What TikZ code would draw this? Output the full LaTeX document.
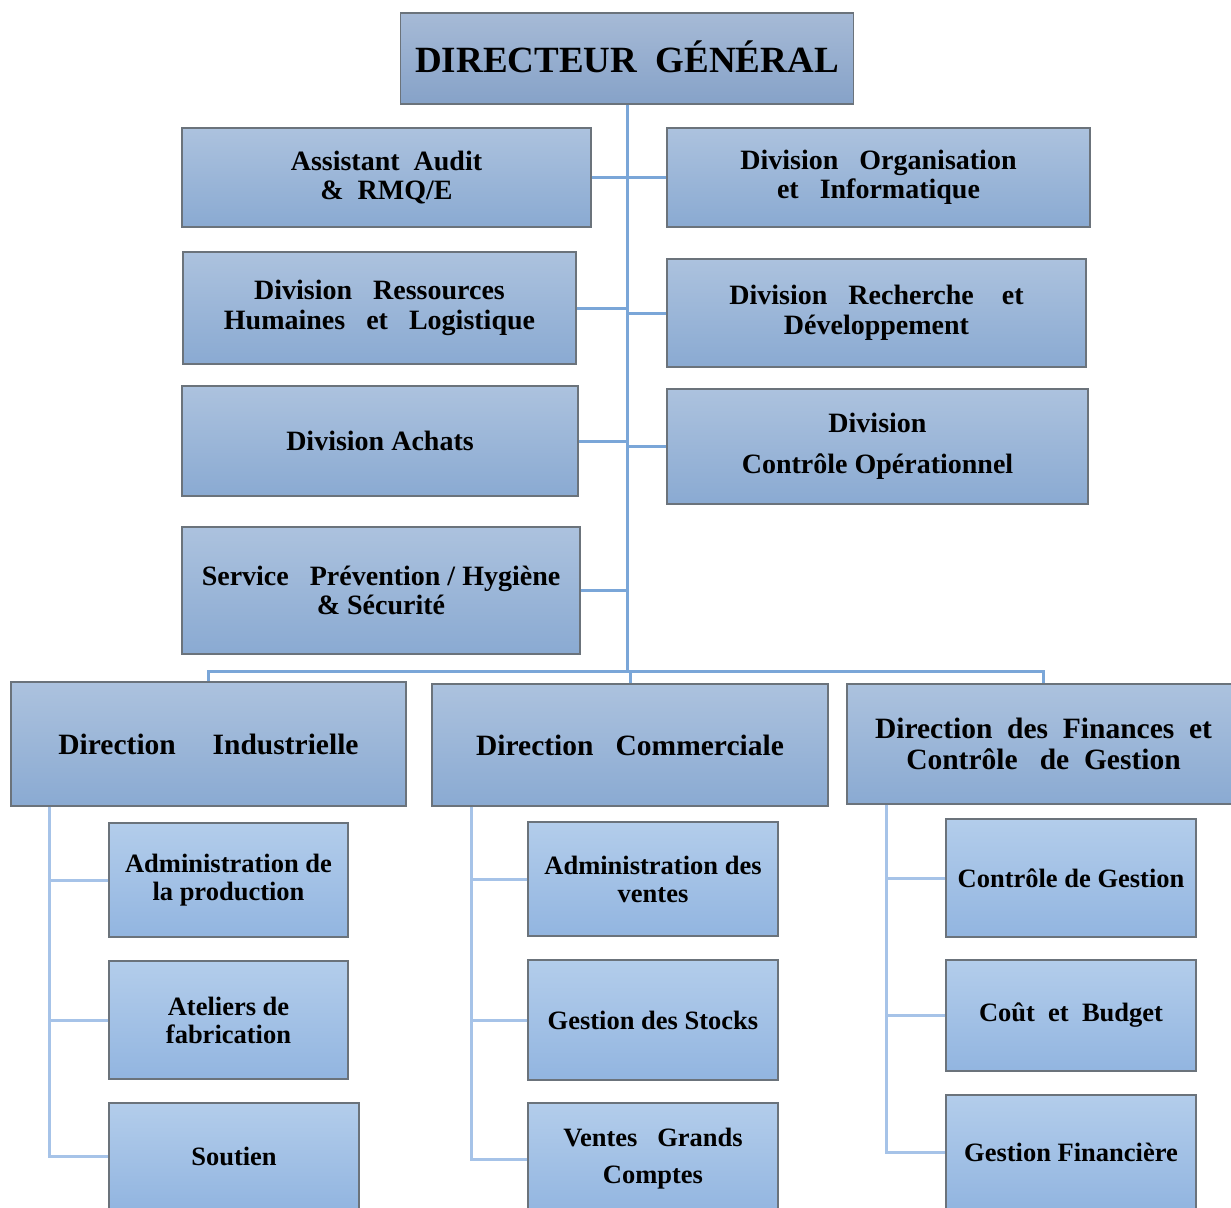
\documentclass[tikz,border=0pt]{standalone}
\usepackage{fontspec}
\setmainfont{Liberation Serif}

\definecolor{boxtop}{HTML}{ACC2DE}
\definecolor{boxbot}{HTML}{8AAAD2}
\definecolor{headtop}{HTML}{A6BAD6}
\definecolor{headbot}{HTML}{86A2C8}
\definecolor{subtop}{HTML}{B3CDEB}
\definecolor{subbot}{HTML}{92B5E0}
\definecolor{linkblue}{HTML}{7AA6D8}
\definecolor{sublinkblue}{HTML}{A6C3E8}
\definecolor{boxline}{HTML}{6B737B}

\tikzset{
  unit/.style={draw=boxline, line width=1.3pt, top color=boxtop, bottom color=boxbot,
    align=center, inner sep=0pt, font=\fontsize{28}{29.5}\selectfont\bfseries},
  head/.style={unit, top color=headtop, bottom color=headbot,
    font=\fontsize{37}{40}\selectfont\bfseries},
  direction/.style={unit, font=\fontsize{29.5}{31}\selectfont\bfseries},
  subunit/.style={unit, top color=subtop, bottom color=subbot,
    font=\fontsize{26.5}{28}\selectfont\bfseries},
  link/.style={draw=linkblue, line width=3pt},
  sublink/.style={draw=sublinkblue, line width=3pt}
}

\begin{document}
\begin{tikzpicture}[x=1pt, y=-1pt]
    \useasboundingbox (0,0) rectangle (1231,1207);
    \clip (0,0) rectangle (1231,1207);

    % Top
    \node[head, minimum width=453, minimum height=91] (dg) at (627,58.5) {\raisebox{3pt}{DIRECTEUR~~GÉNÉRAL}};

    % Staff units, left
    \node[unit, minimum width=409, minimum height=99] (aud) at (386.5,177.5) {Assistant~~Audit\\\&~~RMQ/E};
    \node[unit, minimum width=393, minimum height=112] (rh) at (379.5,308) {Division~~~Ressources\\Humaines~~~et~~~Logistique};
    \node[unit, minimum width=396, minimum height=110] (ach) at (380,441) {Division Achats};
    \node[unit, minimum width=398, minimum height=127] (prev) at (381,590.5) {Service~~~Prévention / Hygiène\\\&~Sécurité};

    % Staff units, right
    \node[unit, minimum width=423, minimum height=99] (org) at (878.5,177.5) {Division~~~Organisation\\et~~~Informatique};
    \node[unit, minimum width=419, minimum height=108] (rd) at (876.5,313) {Division~~~Recherche~~~~et\\Développement};
    \node[unit, minimum width=421, minimum height=115] (ctrl) at (877.5,446.5) {Division\\[11pt]Contrôle Opérationnel};

    % Directions
    \node[direction, minimum width=395, minimum height=124] (di) at (208.5,744) {Direction~~~~~Industrielle};
    \node[direction, minimum width=396, minimum height=122] (dc) at (630,745) {Direction~~~Commerciale};
    \node[direction, minimum width=393, minimum height=120] (df) at (1043.5,744) {Direction~~des~~Finances~~et\\Contrôle~~~de~~Gestion};

    % Industrielle
    \node[subunit, minimum width=239, minimum height=114] (prod) at (228.5,880) {Administration de\\la production};
    \node[subunit, minimum width=239, minimum height=118] (atel) at (228.5,1020) {Ateliers de\\fabrication};
    \node[subunit, minimum width=250, minimum height=106] (sout) at (234,1156) {Soutien};

    % Commerciale
    \node[subunit, minimum width=250, minimum height=114] (adv) at (653,879) {Administration des\\ventes};
    \node[subunit, minimum width=250, minimum height=120] (stock) at (653,1020) {Gestion des Stocks};
    \node[subunit, minimum width=250, minimum height=112] (vgc) at (653,1159) {Ventes~~~Grands\\[9pt]Comptes};

    % Finances
    \node[subunit, minimum width=250, minimum height=118] (cg) at (1071,878) {Contrôle de Gestion};
    \node[subunit, minimum width=250, minimum height=111] (cout) at (1071,1015.5) {Coût~~et~~Budget};
    \node[subunit, minimum width=250, minimum height=114] (fin) at (1071,1152) {Gestion Financière};

    % Trunk and bar
    \coordinate (bar) at (627,671);
    \draw[link] (dg.south) -- (bar);
    \draw[link] (aud.east) -- (aud.east -| dg.south);
    \draw[link] (rh.east) -- (rh.east -| dg.south);
    \draw[link] (ach.east) -- (ach.east -| dg.south);
    \draw[link] (prev.east) -- (prev.east -| dg.south);
    \draw[link] (org.west) -- (org.west -| dg.south);
    \draw[link] (rd.west) -- (rd.west -| dg.south);
    \draw[link] (ctrl.west) -- (ctrl.west -| dg.south);
    \draw[link] (di.north) |- (bar) -| (df.north);
    \draw[link] (dc.north) -- (dc.north |- bar);

    % Sub links
    \coordinate (di-l) at ([xshift=39pt]di.south west);
    \coordinate (dc-l) at ([xshift=40pt]dc.south west);
    \coordinate (df-l) at ([xshift=40pt]df.south west);
    \draw[sublink] (di-l) |- (sout.west);
    \draw[sublink] (prod.west) -- (prod.west -| di-l);
    \draw[sublink] (atel.west) -- (atel.west -| di-l);
    \draw[sublink] (dc-l) |- (vgc.west);
    \draw[sublink] (adv.west) -- (adv.west -| dc-l);
    \draw[sublink] (stock.west) -- (stock.west -| dc-l);
    \draw[sublink] (df-l) |- (fin.west);
    \draw[sublink] (cg.west) -- (cg.west -| df-l);
    \draw[sublink] (cout.west) -- (cout.west -| df-l);
\end{tikzpicture}
\end{document}
